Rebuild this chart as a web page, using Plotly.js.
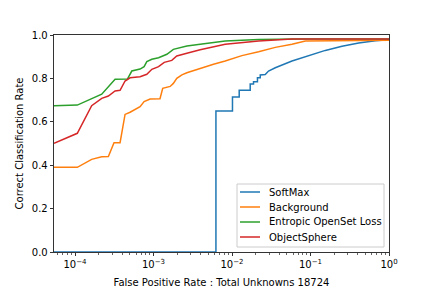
<!DOCTYPE html>
<html>
<head>
<meta charset="utf-8">
<script src="https://cdn.plot.ly/plotly-3.0.1.min.js"></script>
<style>html,body{margin:0;padding:0;background:#fff;}#chart{width:432px;height:288px;}</style>
</head>
<body>
<div id="chart"></div>
<script>
var seriesNames = ["SoftMax", "Background", "Entropic OpenSet Loss", "ObjectSphere"];
var seriesColors = ["#1f77b4", "#ff7f0e", "#2ca02c", "#d62728"];

var softmaxFPR = [5.4e-5, 6.24e-3, 6.24e-3, 0.01014, 0.01014, 0.01235, 0.01235, 0.01706, 0.01706, 0.0188, 0.0188, 0.0211, 0.0211, 0.0229, 0.0229, 0.0265, 0.0292, 0.0356, 0.0581, 0.0947, 0.1545, 0.252, 0.411, 0.671, 1];
var softmaxCCR = [0, 0, 0.65, 0.65, 0.714, 0.714, 0.745, 0.745, 0.774, 0.774, 0.785, 0.785, 0.803, 0.803, 0.816, 0.818, 0.834, 0.849, 0.88, 0.905, 0.929, 0.948, 0.963, 0.974, 0.978];

var backgroundFPR = [5.4e-5, 1.07e-4, 1.63e-4, 2.19e-4, 2.66e-4, 3.14e-4, 3.75e-4, 4.34e-4, 5.03e-4, 6.12e-4, 6.74e-4, 7.59e-4, 9.06e-4, 1.21e-3, 1.31e-3, 1.63e-3, 1.79e-3, 1.98e-3, 2.30e-3, 2.66e-3, 3.93e-3, 5.81e-3, 0.00819, 0.01337, 0.0218, 0.0356, 0.0581, 0.0859, 1];
var backgroundCCR = [0.39, 0.39, 0.427, 0.439, 0.44, 0.504, 0.504, 0.634, 0.644, 0.662, 0.67, 0.693, 0.705, 0.706, 0.754, 0.763, 0.777, 0.80, 0.816, 0.826, 0.846, 0.865, 0.88, 0.905, 0.923, 0.943, 0.957, 0.972, 0.976];

var entropicFPR = [5.4e-5, 1.07e-4, 2.19e-4, 3.24e-4, 4.65e-4, 5.29e-4, 6.74e-4, 7.59e-4, 8.22e-4, 9.52e-4, 1.16e-3, 1.48e-3, 1.79e-3, 2.66e-3, 3.93e-3, 8.19e-3, 0.0218, 0.0741, 1];
var entropicCCR = [0.674, 0.677, 0.727, 0.796, 0.797, 0.834, 0.843, 0.854, 0.877, 0.888, 0.895, 0.911, 0.934, 0.949, 0.957, 0.972, 0.979, 0.981, 0.981];

var objectFPR = [5.4e-5, 1.07e-4, 1.63e-4, 2.19e-4, 2.66e-4, 3.24e-4, 3.75e-4, 4.34e-4, 5.03e-4, 6.74e-4, 8.22e-4, 9.52e-4, 1.16e-3, 1.37e-3, 1.71e-3, 1.98e-3, 2.66e-3, 3.93e-3, 8.19e-3, 0.0218, 0.0581, 1];
var objectCCR = [0.501, 0.547, 0.674, 0.708, 0.719, 0.742, 0.745, 0.788, 0.803, 0.808, 0.819, 0.842, 0.854, 0.874, 0.883, 0.903, 0.916, 0.932, 0.957, 0.972, 0.981, 0.981];

var xTickVals = [1e-4, 1e-3, 1e-2, 1e-1, 1];
var xTickText = ["10<sup>\u22124</sup>", "10<sup>\u22123</sup>", "10<sup>\u22122</sup>", "10<sup>\u22121</sup>", "10<sup>0</sup>"];
var yTickVals = [0, 0.2, 0.4, 0.6, 0.8, 1.0];
var yTickText = ["0.0", "0.2", "0.4", "0.6", "0.8", "1.0"];

var minorVals = [];
[1e-5, 1e-4, 1e-3, 1e-2, 1e-1].forEach(function(d) {
  for (var k = 2; k <= 9; k++) minorVals.push(k * d);
});

var xs = [softmaxFPR, backgroundFPR, entropicFPR, objectFPR];
var ys = [softmaxCCR, backgroundCCR, entropicCCR, objectCCR];
var traces = seriesNames.map(function(n, i) {
  return {x: xs[i], y: ys[i], name: n, type: 'scatter', mode: 'lines',
          line: {color: seriesColors[i], width: 1.5}};
});

// manual matplotlib-style legend (pixel layout converted to paper coords)
var plotL = 54, plotW = 335, plotB = 252, plotH = 217;
function px(x) { return (x - plotL) / plotW; }
function py(y) { return (plotB - y) / plotH; }
var shapes = [{type: 'rect', xref: 'paper', yref: 'paper',
               x0: px(237), x1: px(384), y0: py(247), y1: py(184),
               line: {color: '#cccccc', width: 1}, fillcolor: 'rgba(255,255,255,0.8)', layer: 'above'}];
var annotations = [];
var rowY = [192, 207, 222, 237];
seriesNames.forEach(function(n, i) {
  shapes.push({type: 'line', xref: 'paper', yref: 'paper', x0: px(240), x1: px(260),
               y0: py(rowY[i]), y1: py(rowY[i]), line: {color: seriesColors[i], width: 1.5}, layer: 'above'});
  annotations.push({xref: 'paper', yref: 'paper', x: px(267), y: py(rowY[i]), text: n,
                    showarrow: false, xanchor: 'left', yanchor: 'middle',
                    font: {family: 'DejaVu Sans, sans-serif', size: 10, color: '#000'}});
});

var font = {family: 'DejaVu Sans, sans-serif', size: 10, color: '#000'};
var layout = {
  width: 432, height: 288,
  margin: {l: 54, r: 43, t: 35, b: 36, pad: 0},
  paper_bgcolor: '#fff', plot_bgcolor: '#fff',
  font: font,
  showlegend: false,
  shapes: shapes,
  annotations: annotations,
  xaxis: {type: 'log', range: [Math.log10(5.4e-5), 0], showgrid: false, zeroline: false,
          showline: true, mirror: true, linecolor: '#000', linewidth: 0.8,
          ticks: 'outside', ticklen: 3.5, tickwidth: 0.8, tickcolor: '#000',
          tickvals: xTickVals, ticktext: xTickText, tickfont: font,
          minor: {tickmode: 'array', tickvals: minorVals, ticks: 'outside', ticklen: 2, tickwidth: 0.6, tickcolor: '#000', showgrid: false},
          title: {text: 'False Positive Rate : Total Unknowns 18724', font: font, standoff: 9}},
  yaxis: {range: [0, 1], showgrid: false, zeroline: false,
          showline: true, mirror: true, linecolor: '#000', linewidth: 0.8,
          ticks: 'outside', ticklen: 3.5, tickwidth: 0.8, tickcolor: '#000',
          tickvals: yTickVals, ticktext: yTickText, tickfont: font,
          title: {text: 'Correct Classification Rate', font: font, standoff: 6}}
};
Plotly.newPlot('chart', traces, layout, {displayModeBar: false, staticPlot: true});
</script>
</body>
</html>
